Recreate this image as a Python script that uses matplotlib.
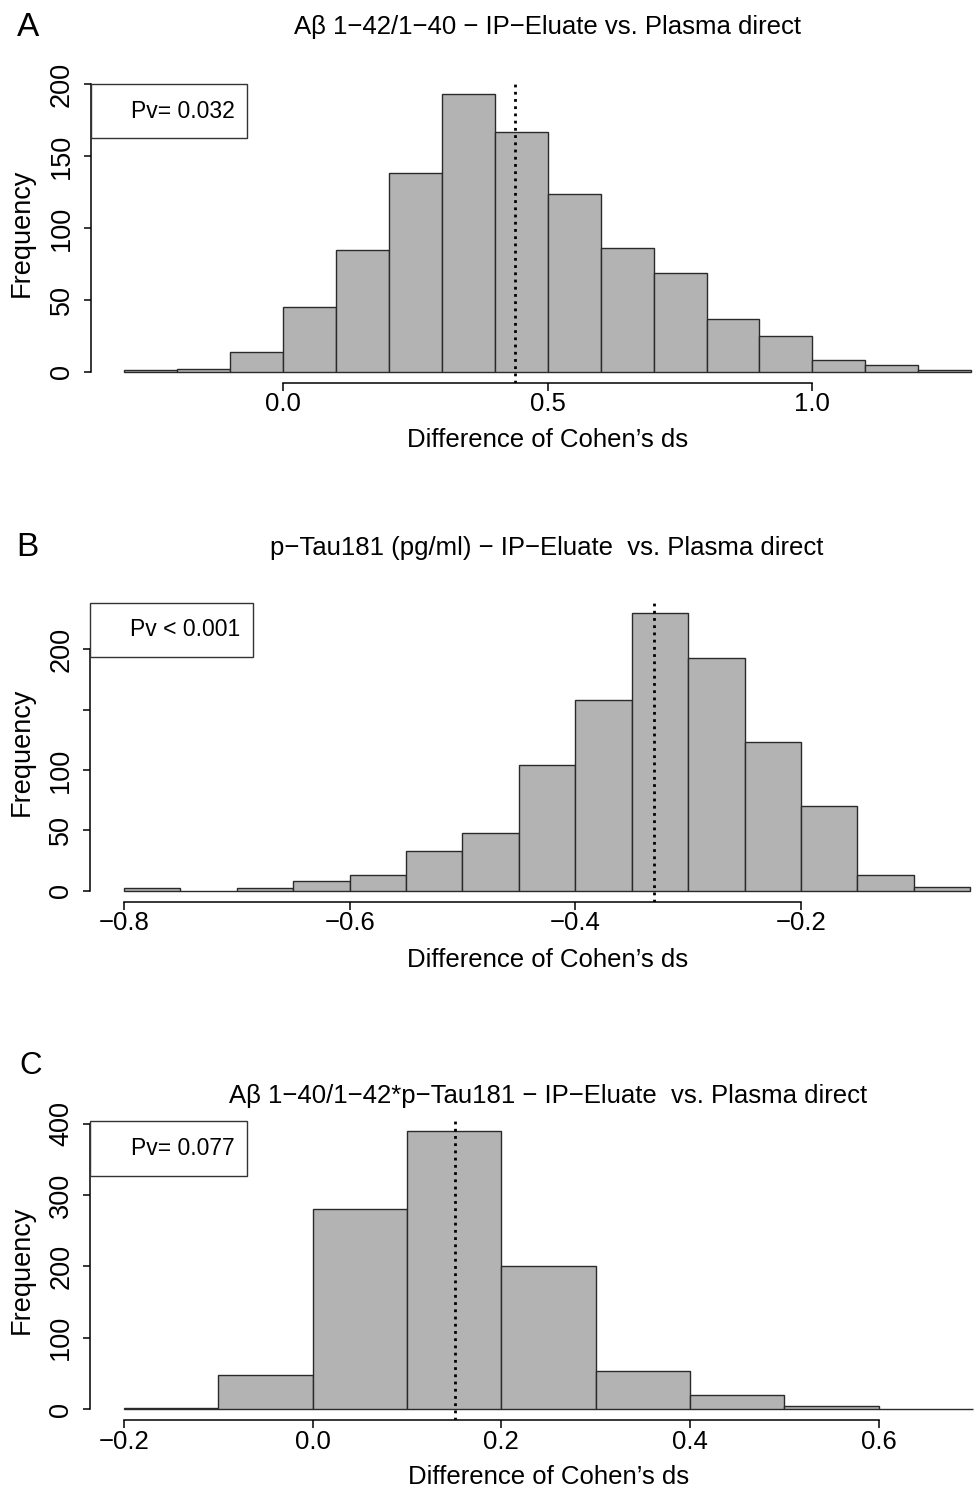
import matplotlib
matplotlib.use("Agg")
import matplotlib.pyplot as plt
import numpy as np
from matplotlib.patches import Rectangle

plt.rcParams['font.family'] = ['Liberation Sans', 'DejaVu Sans']

# ---------------- data ----------------
bins_A = [-0.3, -0.2, -0.1, 0.0, 0.1, 0.2, 0.3, 0.4, 0.5, 0.6, 0.7, 0.8, 0.9, 1.0, 1.1, 1.2, 1.3]
counts_A = [1, 2, 14, 45, 85, 138, 193, 167, 124, 86, 69, 37, 25, 8, 5, 1]
mean_A = 0.439
title_A = "A\u03b2 1\u221242/1\u221240 \u2212 IP\u2212Eluate vs. Plasma direct"
pv_A = "Pv= 0.032"
xticks_A = [0.0, 0.5, 1.0]
xticklabels_A = ["0.0", "0.5", "1.0"]
yticks_A = [0, 50, 100, 150, 200]
yticklabels_A = ["0", "50", "100", "150", "200"]

bins_B = [-0.8, -0.75, -0.7, -0.65, -0.6, -0.55, -0.5, -0.45, -0.4, -0.35, -0.3, -0.25, -0.2, -0.15, -0.1, -0.05]
counts_B = [2, 0, 2, 8, 13, 33, 48, 104, 158, 230, 193, 123, 70, 13, 3]
mean_B = -0.33
title_B = "p\u2212Tau181 (pg/ml) \u2212 IP\u2212Eluate  vs. Plasma direct"
pv_B = "Pv < 0.001"
xticks_B = [-0.8, -0.6, -0.4, -0.2]
xticklabels_B = ["\u22120.8", "\u22120.6", "\u22120.4", "\u22120.2"]
yticks_B = [0, 50, 100, 150, 200]
yticklabels_B = ["0", "50", "100", "", "200"]

bins_C = [-0.2, -0.1, 0.0, 0.1, 0.2, 0.3, 0.4, 0.5, 0.6, 0.7]
counts_C = [2, 48, 280, 390, 200, 54, 20, 5, 1]
mean_C = 0.151
title_C = "A\u03b2 1\u221240/1\u221242*p\u2212Tau181 \u2212 IP\u2212Eluate  vs. Plasma direct"
pv_C = "Pv= 0.077"
xticks_C = [-0.2, 0.0, 0.2, 0.4, 0.6]
xticklabels_C = ["\u22120.2", "0.0", "0.2", "0.4", "0.6"]
yticks_C = [0, 100, 200, 300, 400]
yticklabels_C = ["0", "100", "200", "300", "400"]

xlabel_text = "Difference of Cohen\u2019s ds"
ylabel_text = "Frequency"

# ---------------- layout ----------------
W, H = 974, 1489
fig = plt.figure(figsize=(W / 100, H / 100), dpi=100)
fig.patch.set_facecolor("white")

FILL = "#b3b3b3"
EDGE = "#2a2a2a"

panels = [
    dict(letter="A", bins=bins_A, counts=counts_A, mean=mean_A, title=title_A, pv=pv_A,
         xt=xticks_A, xtl=xticklabels_A, yt=yticks_A, ytl=yticklabels_A,
         ax_px=(90.5, 83.3, 914.5, 299.5), title_base=34.3, xlab_y=440,
         box_px=(90.5, 84.0, 246.7, 138.0), pv_right=235,
         letter_px=(16.7, 36.0), letter_size=24),
    dict(letter="B", bins=bins_B, counts=counts_B, mean=mean_B, title=title_B, pv=pv_B,
         xt=xticks_B, xtl=xticklabels_B, yt=yticks_B, ytl=yticklabels_B,
         ax_px=(90.2, 602.0, 913.8, 299.8), title_base=555.5, xlab_y=960,
         box_px=(90.2, 602.7, 253.3, 657.3), pv_right=240,
         letter_px=(16.0, 556.0), letter_size=24),
    dict(letter="C", bins=bins_C, counts=counts_C, mean=mean_C, title=title_C, pv=pv_C,
         xt=xticks_C, xtl=xticklabels_C, yt=yticks_C, ytl=yticklabels_C,
         ax_px=(90.0, 1119.6, 917.0, 300.8), title_base=1102.5, xlab_y=1477,
         box_px=(90.0, 1121.3, 246.7, 1176.0), pv_right=235,
         letter_px=(19.0, 1073.5), letter_size=22.5),
]

for p in panels:
    left, top, w, h = p["ax_px"]
    ax = fig.add_axes([left / W, 1 - (top + h) / H, w / W, h / H])
    bins = np.array(p["bins"])
    counts = np.array(p["counts"])
    ax.bar(bins[:-1], counts, width=np.diff(bins), align="edge",
           color=FILL, edgecolor=EDGE, linewidth=1.0, zorder=2)
    # R-style axis ranges (4% padding)
    xr = bins[-1] - bins[0]
    ax.set_xlim(bins[0] - 0.04 * xr, bins[-1] + 0.04 * xr)
    ymax = counts.max()
    ax.set_ylim(-0.04 * ymax, 1.04 * ymax)

    ax.axvline(p["mean"], color="black", linewidth=2.0,
               linestyle=(0, (1, 1.6)), zorder=3)

    for s in ["top", "right"]:
        ax.spines[s].set_visible(False)
    for s in ["left", "bottom"]:
        ax.spines[s].set_linewidth(1.1)
        ax.spines[s].set_color("black")
    ax.spines["bottom"].set_bounds(p["xt"][0], p["xt"][-1])
    ax.spines["left"].set_bounds(p["yt"][0], p["yt"][-1])

    ax.set_xticks(p["xt"])
    ax.set_xticklabels(p["xtl"], fontsize=18.5)
    ax.set_yticks(p["yt"])
    ax.set_yticklabels(p["ytl"], fontsize=19.5, rotation=90, va="center")
    ax.tick_params(axis="x", direction="out", length=5.4, width=1.1, pad=1.5)
    ax.tick_params(axis="y", direction="out", length=5.4, width=1.1, pad=6.0)

    ax.set_xlabel(xlabel_text, fontsize=18.5, va="center")
    ax.xaxis.set_label_coords(0.5, (top + h - p["xlab_y"]) / h)
    ax.set_ylabel(ylabel_text, fontsize=19.5, va="center", ha="center")
    ax.yaxis.set_label_coords((22 - left) / w, 0.5)

    ax.set_title(p["title"], fontsize=18.5, pad=0, va="baseline",
                 y=(top + h - p["title_base"]) / h)

    # legend-like box
    bx0, by0, bx1, by1 = p["box_px"]
    rect = Rectangle((bx0 / W, 1 - by1 / H), (bx1 - bx0) / W, (by1 - by0) / H,
                     transform=fig.transFigure, facecolor="white",
                     edgecolor="#333333", linewidth=1.0, zorder=10)
    fig.add_artist(rect)
    fig.text(p["pv_right"] / W, 1 - ((by0 + by1) / 2) / H, p["pv"],
             fontsize=16.5, ha="right", va="center", zorder=11)

    lx, ly = p["letter_px"]
    fig.text(lx / W, 1 - ly / H, p["letter"], fontsize=p["letter_size"],
             ha="left", va="baseline")

fig.savefig("out.png", dpi=100, facecolor="white")
